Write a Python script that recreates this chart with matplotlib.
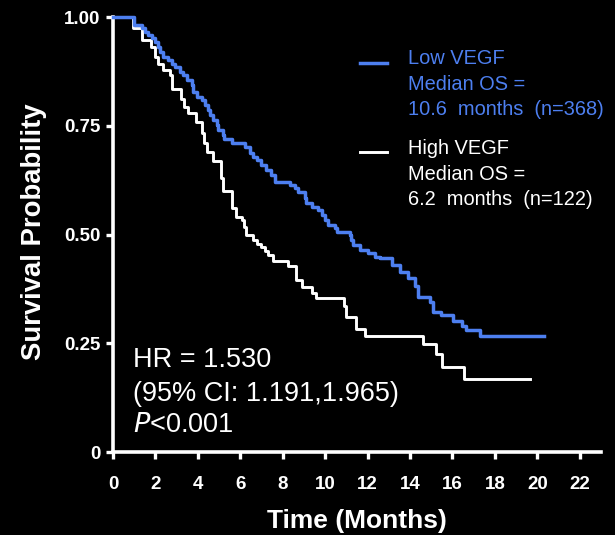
import matplotlib
matplotlib.use("Agg")
import matplotlib.pyplot as plt

plt.rcParams['font.family'] = ['Liberation Sans', 'DejaVu Sans']

# Kaplan-Meier steps: event times (months) and survival after each drop
low_t = [0, 1.00, 1.35, 1.51, 1.66, 1.82, 1.98, 2.14, 2.21, 2.37, 2.60, 2.76,
         2.92, 3.16, 3.31, 3.47, 3.71, 3.78, 3.94, 4.18, 4.33, 4.49, 4.57,
         4.72, 4.88, 4.96, 5.20, 5.25, 5.59, 6.22, 6.45, 6.60, 6.77, 7.00,
         7.20, 7.47, 7.63, 8.34, 8.57, 8.73, 9.04, 9.12, 9.36, 9.67, 9.83,
         9.99, 10.14, 10.46, 10.54, 11.16, 11.24, 11.32, 11.63, 12.03, 12.34,
         12.58, 13.13, 13.52, 13.91, 14.22, 14.38, 14.93, 15.09, 15.48, 16.03,
         16.43, 16.66, 17.29, 20.30]
low_s = [1.000, 0.982, 0.974, 0.966, 0.959, 0.951, 0.943, 0.932, 0.920, 0.909,
         0.901, 0.893, 0.886, 0.874, 0.867, 0.855, 0.844, 0.828, 0.817, 0.809,
         0.798, 0.786, 0.775, 0.763, 0.752, 0.740, 0.729, 0.719, 0.710, 0.702,
         0.687, 0.679, 0.671, 0.660, 0.648, 0.637, 0.621, 0.614, 0.606, 0.598,
         0.583, 0.572, 0.564, 0.556, 0.545, 0.533, 0.522, 0.514, 0.506, 0.499,
         0.487, 0.476, 0.464, 0.457, 0.449, 0.445, 0.430, 0.414, 0.399, 0.382,
         0.356, 0.346, 0.323, 0.315, 0.301, 0.290, 0.280, 0.267, 0.267]

high_t = [0, 0.93, 1.38, 1.79, 1.98, 2.14, 2.37, 2.68, 2.76, 3.19, 3.34, 3.55,
          3.91, 4.18, 4.29, 4.41, 4.73, 5.07, 5.20, 5.62, 5.79, 6.06, 6.19,
          6.26, 6.61, 6.77, 7.00, 7.16, 7.32, 7.52, 8.26, 8.62, 8.89, 9.36,
          9.55, 10.88, 11.00, 11.45, 11.87, 14.60, 15.21, 15.53, 16.55, 19.67]
high_s = [1.000, 0.974, 0.947, 0.930, 0.909, 0.893, 0.879, 0.867, 0.834, 0.811,
          0.794, 0.779, 0.759, 0.733, 0.710, 0.690, 0.668, 0.629, 0.601, 0.560,
          0.541, 0.533, 0.518, 0.499, 0.487, 0.478, 0.472, 0.463, 0.453, 0.439,
          0.428, 0.395, 0.379, 0.365, 0.353, 0.336, 0.310, 0.283, 0.267, 0.248,
          0.225, 0.195, 0.169, 0.169]

x_ticks = list(range(0, 23, 2))
y_ticks = [0, 0.25, 0.50, 0.75, 1.00]
y_tick_labels = ['0', '0.25', '0.50', '0.75', '1.00']

low_label = 'Low VEGF\nMedian OS =\n10.6  months  (n=368)'
high_label = 'High VEGF\nMedian OS =\n6.2  months  (n=122)'

blue = '#4d7ff0'

fig = plt.figure(figsize=(6.15, 5.35), dpi=100, facecolor='black')
ax = fig.add_axes([0.1837, 0.1551, 0.7935, 0.8131], facecolor='black')

ax.step(low_t, low_s, where='post', color=blue, lw=2.5, clip_on=False, zorder=3)
ax.step(high_t, high_s, where='post', color='white', lw=2.1, clip_on=False, zorder=2)

ax.set_xlim(0, 23)
ax.set_ylim(0, 1.0)
ax.set_xticks(x_ticks)
ax.set_yticks(y_ticks)
ax.set_yticklabels(y_tick_labels)

for side in ('top', 'right'):
    ax.spines[side].set_visible(False)
for side in ('left', 'bottom'):
    ax.spines[side].set_color('white')
    ax.spines[side].set_linewidth(2.6)

ax.tick_params(colors='white', width=2.4, length=5)
ax.tick_params(axis='x', pad=12)
ax.tick_params(axis='y', pad=4)
for lab in ax.get_xticklabels() + ax.get_yticklabels():
    lab.set_fontweight('bold')
    lab.set_fontsize(13.5)
    lab.set_color('white')

ax.set_xlabel('Time (Months)', color='white', fontsize=19, fontweight='bold', labelpad=12)
ax.set_ylabel('Survival Probability', color='white', fontsize=19.8, fontweight='bold')
ax.yaxis.set_label_coords(-0.135, 0.506)

# legend drawn by hand so each entry's line sits by its first row
ax.plot([0.506, 0.561], [0.894, 0.894], transform=ax.transAxes, color=blue, lw=2.5)
ax.plot([0.506, 0.561], [0.690, 0.690], transform=ax.transAxes, color='white', lw=2.1)
ax.text(0.605, 0.846, low_label, transform=ax.transAxes, color=blue,
        fontsize=14.4, va='center', ha='left', linespacing=1.45)
ax.text(0.605, 0.639, high_label, transform=ax.transAxes, color='white',
        fontsize=14.4, va='center', ha='left', linespacing=1.45)

ax.text(0.94, 0.212, 'HR = 1.530', color='white', fontsize=19.5, va='center', ha='left')
ax.text(0.94, 0.134, '(95% CI: 1.191,1.965)', color='white', fontsize=19.5, va='center', ha='left')
ax.text(0.94, 0.062, r'$\it{P}$<0.001', color='white', fontsize=19.5, va='center', ha='left')

fig.savefig('out.png', dpi=100, facecolor='black')
